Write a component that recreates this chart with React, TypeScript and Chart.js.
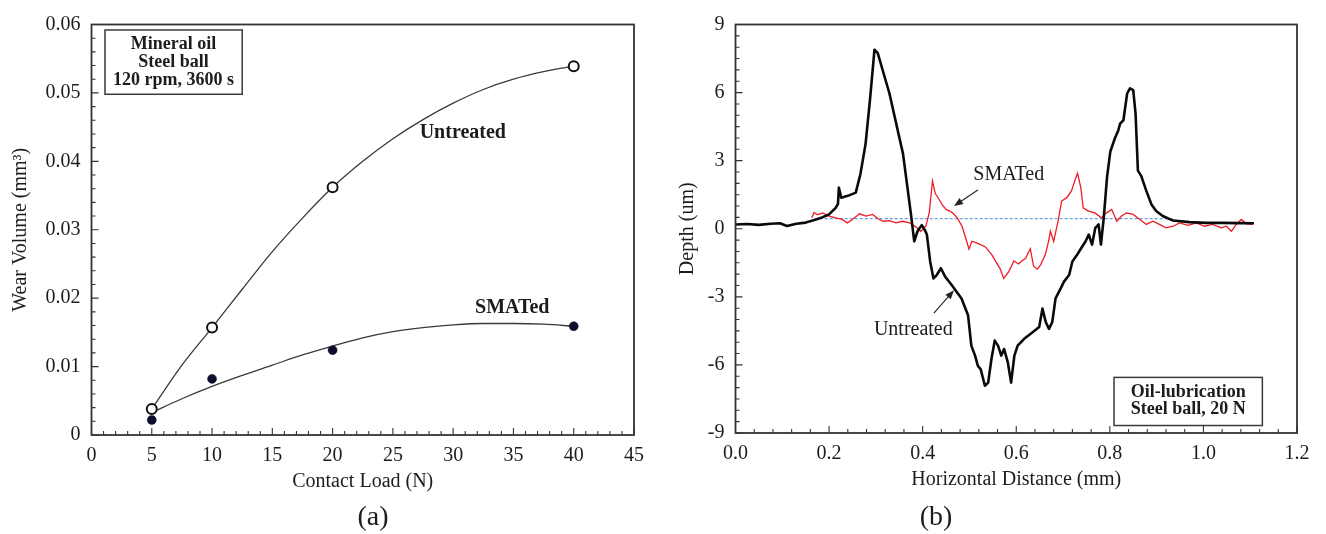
import React, { useEffect, useRef } from "react";
import { Chart, registerables } from "chart.js";

Chart.register(...registerables);

// ================= Chart (a): wear volume vs contact load =================
const loadsN = [5, 10, 20, 40];
const untreatedWear = [0.0038, 0.0157, 0.0362, 0.0539];
const smatedWear = [0.0022, 0.0082, 0.0124, 0.0159];

// fitted trend curves
const fitLoads = [5, 7.5, 10, 12.5, 15, 17.5, 20, 22.5, 25, 27.5, 30, 32.5, 35, 37.5, 40];
const untreatedFit = [0.0038, 0.0102, 0.0157, 0.0213, 0.0268, 0.0317, 0.0362, 0.04, 0.0433, 0.0461, 0.0485, 0.0505, 0.052, 0.0531, 0.0539];
const smatedFit = [0.0033, 0.0053, 0.0071, 0.0087, 0.0102, 0.0117, 0.013, 0.0142, 0.0151, 0.0157, 0.0161, 0.0163, 0.0163, 0.0162, 0.0159];

const aXTicks = [0, 5, 10, 15, 20, 25, 30, 35, 40, 45];
const aXTickLabels = ["0", "5", "10", "15", "20", "25", "30", "35", "40", "45"];
const aYTicks = [0, 0.01, 0.02, 0.03, 0.04, 0.05, 0.06];
const aYTickLabels = ["0", "0.01", "0.02", "0.03", "0.04", "0.05", "0.06"];

// ================= Chart (b): depth profiles =================
const untreatedDist = [
  0.0, 0.025, 0.05, 0.075, 0.095, 0.11, 0.13, 0.15, 0.165, 0.185, 0.2, 0.214, 0.219, 0.221, 0.226, 0.24,
  0.257, 0.267, 0.278, 0.288, 0.297, 0.304, 0.329, 0.358, 0.375, 0.382, 0.389, 0.398, 0.406, 0.409, 0.416,
  0.423, 0.43, 0.439, 0.448, 0.462, 0.483, 0.497, 0.504, 0.512, 0.518, 0.524, 0.533, 0.54, 0.547, 0.554,
  0.561, 0.568, 0.574, 0.582, 0.589, 0.596, 0.603, 0.617, 0.635, 0.649, 0.656, 0.663, 0.67, 0.677, 0.684,
  0.695, 0.702, 0.713, 0.72, 0.73, 0.739, 0.748, 0.755, 0.762, 0.769, 0.776, 0.781, 0.787, 0.794, 0.801,
  0.811, 0.818, 0.822, 0.829, 0.832, 0.837, 0.843, 0.85, 0.855, 0.86, 0.867, 0.878, 0.889, 0.899, 0.913,
  0.935, 0.97, 1.005, 1.041, 1.076, 1.108,
];
const untreatedDepth = [
  0.19, 0.21, 0.17, 0.22, 0.24, 0.12, 0.22, 0.27, 0.36, 0.5, 0.63, 0.92, 1.1, 1.81, 1.37, 1.45,
  1.59, 2.41, 3.74, 5.81, 7.89, 7.74, 5.96, 3.3, 0.63, -0.56, -0.11, 0.16, -0.11, -0.26, -1.44,
  -2.19, -2.04, -1.74, -2.11, -2.48, -3.07, -3.81, -5.15, -5.59, -6.04, -6.19, -6.92, -6.78, -5.74, -4.93,
  -5.15, -5.59, -5.3, -5.89, -6.78, -5.59, -5.15, -4.85, -4.56, -4.33, -3.52, -4.11, -4.41, -4.11, -3.07,
  -2.63, -2.33, -2.04, -1.44, -1.15, -0.85, -0.56, -0.26, -0.7, 0.04, 0.19, -0.7, 0.48, 2.26, 3.4,
  4.0, 4.33, 4.63, 4.78, 5.22, 5.96, 6.19, 6.11, 5.07, 2.56, 2.33, 1.67, 1.07, 0.78, 0.56,
  0.36, 0.29, 0.26, 0.26, 0.25, 0.24,
];

const smatedDist = [
  0.163, 0.168, 0.175, 0.187, 0.2, 0.214, 0.228, 0.239, 0.25, 0.265, 0.279, 0.293, 0.304, 0.315, 0.329,
  0.343, 0.357, 0.372, 0.386, 0.396, 0.407, 0.414, 0.421, 0.427, 0.432, 0.442, 0.45, 0.458, 0.464, 0.474,
  0.484, 0.492, 0.499, 0.505, 0.512, 0.524, 0.534, 0.542, 0.548, 0.556, 0.566, 0.573, 0.584, 0.595, 0.605,
  0.613, 0.62, 0.63, 0.637, 0.645, 0.652, 0.662, 0.669, 0.673, 0.68, 0.69, 0.697, 0.708, 0.718, 0.725,
  0.731, 0.738, 0.743, 0.754, 0.768, 0.782, 0.793, 0.804, 0.815, 0.825, 0.836, 0.85, 0.864, 0.878, 0.892,
  0.906, 0.92, 0.935, 0.949, 0.967, 0.985, 1.002, 1.02, 1.038, 1.049, 1.06, 1.07, 1.081, 1.092, 1.106,
];
const smatedDepth = [
  0.48, 0.72, 0.62, 0.7, 0.56, 0.48, 0.41, 0.26, 0.41, 0.66, 0.56, 0.63, 0.45, 0.33, 0.36,
  0.26, 0.33, 0.26, 0.08, -0.12, 0.12, 0.7, 2.1, 1.55, 1.4, 1.05, 0.85, 0.78, 0.7, 0.48,
  0.11, -0.41, -0.9, -0.55, -0.6, -0.7, -0.8, -1.0, -1.15, -1.44, -1.78, -2.19, -1.89, -1.42, -1.55,
  -1.4, -1.3, -0.88, -1.65, -1.78, -1.59, -1.15, -0.56, -0.11, -0.56, 0.4, 1.22, 1.37, 1.67, 2.11,
  2.44, 1.81, 0.92, 0.78, 0.7, 0.48, 0.7, 0.85, 0.33, 0.56, 0.7, 0.63, 0.41, 0.19, 0.33,
  0.19, 0.04, 0.11, 0.26, 0.15, 0.26, 0.11, 0.19, 0.04, 0.11, -0.11, 0.19, 0.41, 0.22, 0.19,
];

const refLineDist = [0.18, 0.935];
const refLineDepth = [0.45, 0.45];

const bXTicks = [0, 0.2, 0.4, 0.6, 0.8, 1.0, 1.2];
const bXTickLabels = ["0.0", "0.2", "0.4", "0.6", "0.8", "1.0", "1.2"];
const bYTicks = [-9, -6, -3, 0, 3, 6, 9];
const bYTickLabels = ["-9", "-6", "-3", "0", "3", "6", "9"];

// ================= styling helpers =================
const SERIF = '"Liberation Serif", "Times New Roman", serif';
const TEXT = "#1c1c1c";

const zip = (xs: number[], ys: number[]) => xs.map((x, i) => ({ x, y: ys[i] }));

// frame + inward major/minor ticks
const frameTicksPlugin = {
  id: "frameTicks",
  afterDatasetsDraw(chart: any, _args: any, opts: any) {
    const { ctx, chartArea: ca, scales } = chart;
    const xs = scales.x;
    const ys = scales.y;
    ctx.save();
    ctx.strokeStyle = opts.color;
    ctx.lineWidth = 1.1;
    ctx.beginPath();
    const drawSet = (scale: any, step: number, majorStep: number, horizontal: boolean) => {
      const n = Math.round((scale.max - scale.min) / step);
      for (let i = 0; i <= n; i++) {
        const v = scale.min + i * step;
        const r = (v - scale.min) / majorStep;
        const major = Math.abs(r - Math.round(r)) < 1e-6;
        const len = major ? 7 : 4;
        const p = scale.getPixelForValue(v);
        if (horizontal) {
          ctx.moveTo(p, ca.bottom);
          ctx.lineTo(p, ca.bottom - len);
        } else {
          ctx.moveTo(ca.left, p);
          ctx.lineTo(ca.left + len, p);
        }
      }
    };
    drawSet(xs, opts.xMinor, opts.xMajor, true);
    drawSet(ys, opts.yMinor, opts.yMajor, false);
    ctx.stroke();
    ctx.lineWidth = opts.width;
    ctx.strokeRect(ca.left, ca.top, ca.right - ca.left, ca.bottom - ca.top);
    ctx.restore();
  },
};

// text boxes, labels, arrows placed in data coordinates
const notesPlugin = {
  id: "notes",
  afterDraw(chart: any, _args: any, opts: any) {
    const { ctx } = chart;
    const xs = chart.scales.x;
    const ys = chart.scales.y;
    const X = (v: number) => xs.getPixelForValue(v);
    const Y = (v: number) => ys.getPixelForValue(v);
    ctx.save();
    for (const b of opts.boxes || []) {
      const x0 = X(b.x0), x1 = X(b.x1), y0 = Y(b.y0), y1 = Y(b.y1);
      ctx.fillStyle = "#ffffff";
      ctx.fillRect(x0, y0, x1 - x0, y1 - y0);
      ctx.strokeStyle = "#3a3a3a";
      ctx.lineWidth = 1.5;
      ctx.strokeRect(x0, y0, x1 - x0, y1 - y0);
      ctx.fillStyle = TEXT;
      ctx.font = b.font;
      ctx.textAlign = "center";
      ctx.textBaseline = "middle";
      const cx = (x0 + x1) / 2;
      const cy = (y0 + y1) / 2 + (b.dy || 0);
      const n = b.lines.length;
      b.lines.forEach((line: string, i: number) => {
        ctx.fillText(line, cx, cy + (i - (n - 1) / 2) * b.lineHeight);
      });
    }
    for (const t of opts.labels || []) {
      ctx.fillStyle = TEXT;
      ctx.font = t.font;
      ctx.textAlign = "center";
      ctx.textBaseline = "middle";
      ctx.fillText(t.text, X(t.x), Y(t.y));
    }
    for (const a of opts.arrows || []) {
      const x0 = X(a.x0), y0 = Y(a.y0), x1 = X(a.x1), y1 = Y(a.y1);
      const ang = Math.atan2(y1 - y0, x1 - x0);
      const hl = 9, hw = 3.5;
      ctx.strokeStyle = "#222";
      ctx.fillStyle = "#222";
      ctx.lineWidth = 1.1;
      ctx.beginPath();
      ctx.moveTo(x0, y0);
      ctx.lineTo(x1 - Math.cos(ang) * hl * 0.8, y1 - Math.sin(ang) * hl * 0.8);
      ctx.stroke();
      ctx.beginPath();
      ctx.moveTo(x1, y1);
      ctx.lineTo(x1 - Math.cos(ang) * hl - Math.sin(ang) * hw, y1 - Math.sin(ang) * hl + Math.cos(ang) * hw);
      ctx.lineTo(x1 - Math.cos(ang) * hl + Math.sin(ang) * hw, y1 - Math.sin(ang) * hl - Math.cos(ang) * hw);
      ctx.closePath();
      ctx.fill();
    }
    ctx.restore();
  },
};

const fixedTicks = (values: number[]) => (scale: any) => {
  scale.ticks = values.map((v) => ({ value: v }));
};

function makeConfigA(): any {
  return {
    type: "scatter",
    data: {
      datasets: [
        {
          label: "Untreated",
          data: zip(loadsN, untreatedWear),
          pointRadius: 5,
          pointBorderWidth: 2,
          pointBorderColor: "#111",
          pointBackgroundColor: "#ffffff",
          showLine: false,
          order: 0,
        },
        {
          label: "SMATed",
          data: zip(loadsN, smatedWear),
          pointRadius: 4.5,
          pointBorderWidth: 0.5,
          pointBorderColor: "#0b0b24",
          pointBackgroundColor: "#0d0d2e",
          showLine: false,
          order: 0,
        },
        {
          label: "Untreated fit",
          data: zip(fitLoads, untreatedFit),
          showLine: true,
          pointRadius: 0,
          borderColor: "#3a3a3a",
          borderWidth: 1.3,
          cubicInterpolationMode: "monotone",
          order: 1,
        },
        {
          label: "SMATed fit",
          data: zip(fitLoads, smatedFit),
          showLine: true,
          pointRadius: 0,
          borderColor: "#3a3a3a",
          borderWidth: 1.3,
          cubicInterpolationMode: "monotone",
          order: 1,
        },
      ],
    },
    options: {
      responsive: false,
      animation: false,
      devicePixelRatio: 1,
      events: [],
      layout: { padding: { left: 0, top: 24.5, right: 26, bottom: 0 } },
      plugins: {
        legend: { display: false },
        tooltip: { enabled: false },
        frameTicks: { color: "#333", width: 1.8, xMinor: 1, xMajor: 5, yMinor: 0.002, yMajor: 0.01 },
        notes: {
          boxes: [
            {
              x0: 1.12, x1: 12.5, y0: 0.0592, y1: 0.0498,
              lines: ["Mineral oil", "Steel ball", "120 rpm, 3600 s"],
              font: `bold 18px ${SERIF}`, lineHeight: 18, dy: 0,
            },
          ],
          labels: [
            { text: "Untreated", x: 30.8, y: 0.0441, font: `bold 20px ${SERIF}` },
            { text: "SMATed", x: 34.9, y: 0.01852, font: `bold 20px ${SERIF}` },
          ],
        },
      },
      scales: {
        x: {
          type: "linear",
          min: 0,
          max: 45,
          afterBuildTicks: fixedTicks(aXTicks),
          afterFit: (s: any) => { s.height = 534 - 435; },
          grid: { display: false, drawTicks: false },
          border: { display: false },
          ticks: {
            padding: 9,
            color: TEXT,
            font: { family: SERIF, size: 20 },
            maxRotation: 0,
            autoSkip: false,
            callback: (_v: any, i: number) => aXTickLabels[i],
          },
          title: {
            display: true,
            text: "Contact Load (N)",
            color: TEXT,
            font: { family: SERIF, size: 20 },
            padding: { top: 0, bottom: 40 },
          },
        },
        y: {
          type: "linear",
          min: 0,
          max: 0.06,
          afterBuildTicks: fixedTicks(aYTicks),
          afterFit: (s: any) => { s.width = 91.5; },
          grid: { display: false, drawTicks: false },
          border: { display: false },
          ticks: {
            padding: 11,
            color: TEXT,
            font: { family: SERIF, size: 20 },
            autoSkip: false,
            callback: (_v: any, i: number) => aYTickLabels[i],
          },
          title: {
            display: true,
            text: "Wear Volume (mm³)",
            color: TEXT,
            font: { family: SERIF, size: 20 },
            padding: { top: 9, bottom: 0 },
          },
        },
      },
    },
    plugins: [frameTicksPlugin, notesPlugin],
  };
}

function makeConfigB(): any {
  return {
    type: "scatter",
    data: {
      datasets: [
        {
          label: "Untreated",
          data: zip(untreatedDist, untreatedDepth),
          showLine: true,
          pointRadius: 0,
          borderColor: "#0a0a0a",
          borderWidth: 2.6,
          borderJoinStyle: "round",
          tension: 0,
          order: 0,
        },
        {
          label: "SMATed",
          data: zip(smatedDist, smatedDepth),
          showLine: true,
          pointRadius: 0,
          borderColor: "#ee1c25",
          borderWidth: 1.3,
          tension: 0,
          order: 1,
        },
        {
          label: "Reference",
          data: zip(refLineDist, refLineDepth),
          showLine: true,
          pointRadius: 0,
          borderColor: "#6a9fd8",
          borderWidth: 1.2,
          borderDash: [3, 2],
          order: 2,
        },
      ],
    },
    options: {
      responsive: false,
      animation: false,
      devicePixelRatio: 1,
      events: [],
      layout: { padding: { left: 0, top: 24.5, right: 29, bottom: 0 } },
      plugins: {
        legend: { display: false },
        tooltip: { enabled: false },
        frameTicks: { color: "#333", width: 1.8, xMinor: 0.04, xMajor: 0.2, yMinor: 0.5, yMajor: 3 },
        notes: {
          boxes: [
            {
              x0: 0.809, x1: 1.126, y0: -6.55, y1: -8.67,
              lines: ["Oil-lubrication", "Steel ball, 20 N"],
              font: `bold 18px ${SERIF}`, lineHeight: 17, dy: -1,
            },
          ],
          labels: [
            { text: "SMATed", x: 0.584, y: 2.37, font: `20px ${SERIF}` },
            { text: "Untreated", x: 0.38, y: -4.47, font: `20px ${SERIF}` },
          ],
          arrows: [
            { x0: 0.518, y0: 1.71, x1: 0.467, y1: 1.0 },
            { x0: 0.424, y0: -3.72, x1: 0.467, y1: -2.71 },
          ],
        },
      },
      scales: {
        x: {
          type: "linear",
          min: 0,
          max: 1.2,
          afterBuildTicks: fixedTicks(bXTicks),
          afterFit: (s: any) => { s.height = 534 - 433; },
          grid: { display: false, drawTicks: false },
          border: { display: false },
          ticks: {
            padding: 9,
            color: TEXT,
            font: { family: SERIF, size: 20 },
            maxRotation: 0,
            autoSkip: false,
            callback: (_v: any, i: number) => bXTickLabels[i],
          },
          title: {
            display: true,
            text: "Horizontal Distance (mm)",
            color: TEXT,
            font: { family: SERIF, size: 20 },
            padding: { top: 0, bottom: 42 },
          },
        },
        y: {
          type: "linear",
          min: -9,
          max: 9,
          afterBuildTicks: fixedTicks(bYTicks),
          afterFit: (s: any) => { s.width = 75.5; },
          grid: { display: false, drawTicks: false },
          border: { display: false },
          ticks: {
            padding: 11,
            color: TEXT,
            font: { family: SERIF, size: 20 },
            autoSkip: false,
            callback: (_v: any, i: number) => bYTickLabels[i],
          },
          title: {
            display: true,
            text: "Depth (um)",
            color: TEXT,
            font: { family: SERIF, size: 20 },
            padding: { top: 16, bottom: 0 },
          },
        },
      },
    },
    plugins: [frameTicksPlugin, notesPlugin],
  };
}

function ChartCanvas(props: { make: () => any; width: number; height: number }) {
  const ref = useRef<HTMLCanvasElement | null>(null);
  useEffect(() => {
    if (!ref.current) return;
    const chart = new Chart(ref.current, props.make());
    return () => chart.destroy();
  }, []);
  return (
    <canvas
      ref={ref}
      width={props.width}
      height={props.height}
      style={{ display: "block", width: props.width, height: props.height }}
    />
  );
}

export default function App() {
  const caption: React.CSSProperties = {
    position: "absolute",
    top: 499,
    width: 80,
    textAlign: "center",
    fontFamily: SERIF,
    fontSize: 28,
    lineHeight: "34px",
    color: TEXT,
  };
  return (
    <div
      style={{
        position: "fixed",
        left: 0,
        top: 0,
        width: 1326,
        height: 534,
        background: "#ffffff",
        overflow: "hidden",
      }}
    >
      <div style={{ position: "absolute", left: 0, top: 0, width: 660, height: 534 }}>
        <ChartCanvas make={makeConfigA} width={660} height={534} />
      </div>
      <div style={{ position: "absolute", left: 660, top: 0, width: 666, height: 534 }}>
        <ChartCanvas make={makeConfigB} width={666} height={534} />
      </div>
      <div style={{ ...caption, left: 373 - 40 }}>(a)</div>
      <div style={{ ...caption, left: 936 - 40 }}>(b)</div>
    </div>
  );
}
